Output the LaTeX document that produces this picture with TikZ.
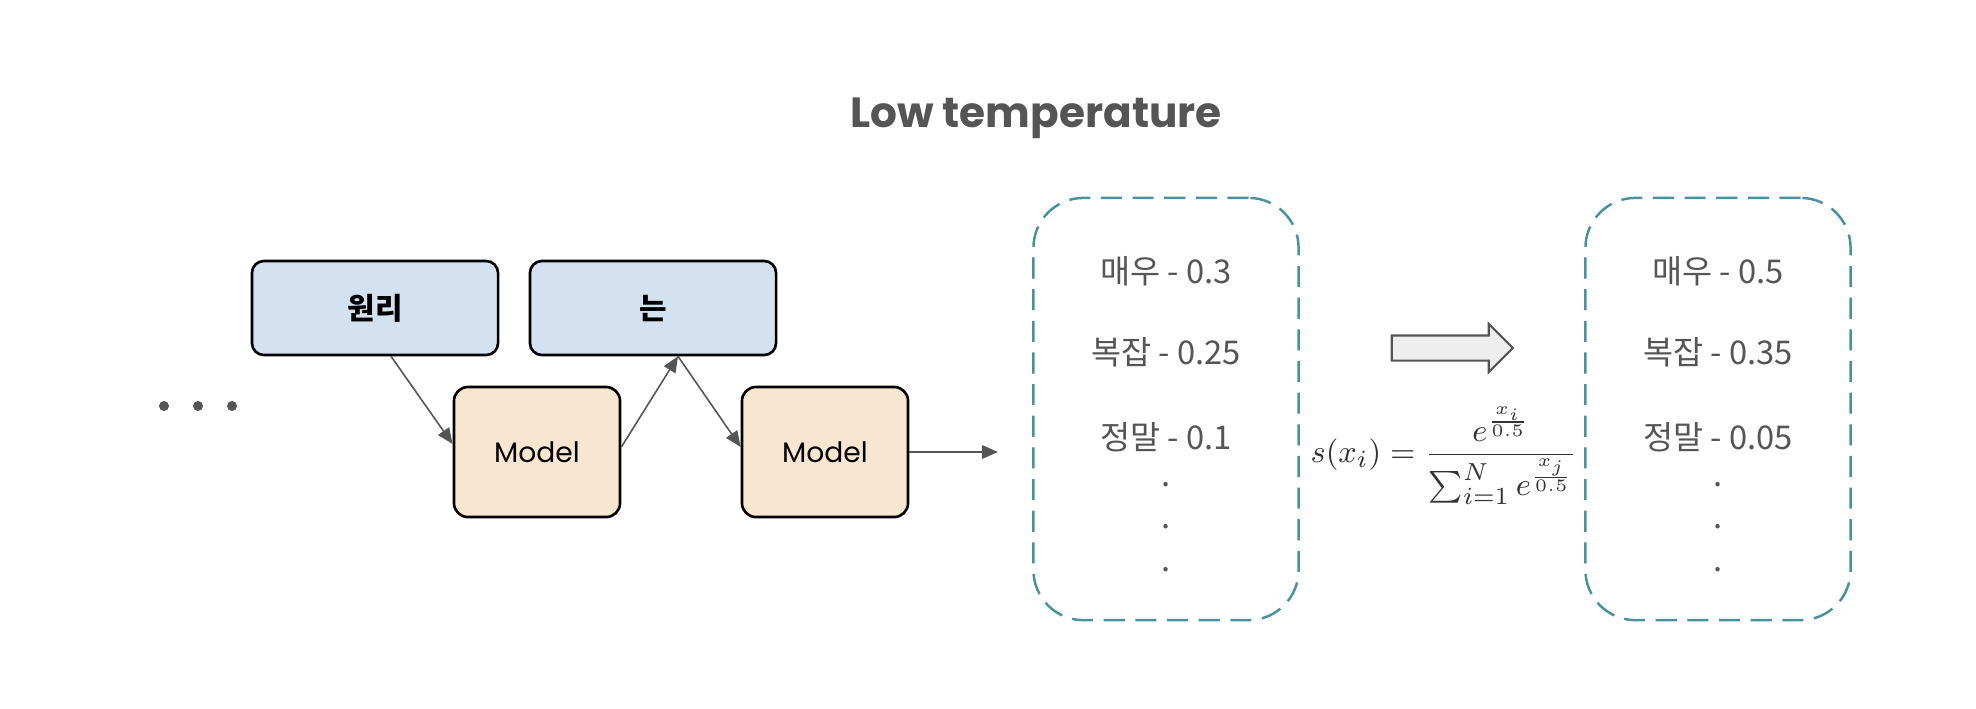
\documentclass[tikz,border=0pt]{standalone}
\usepackage{amsmath}
\usepackage[no-math]{fontspec}
\setmainfont{Poppins}
\newfontfamily\kofont{Noto Sans CJK KR}
\usetikzlibrary{positioning,shapes.arrows,arrows.meta}

\definecolor{tokenblue}{HTML}{D4E1F1}
\definecolor{modelorange}{HTML}{F8E6D0}
\definecolor{probteal}{HTML}{4A919E}
\definecolor{textgray}{HTML}{555555}
\definecolor{formulagray}{HTML}{333333}
\definecolor{arrowfill}{HTML}{EEEEEE}

\begin{document}
\begin{tikzpicture}[x=0.01cm, y=0.01cm,
    token/.style={rectangle, draw, line width=0.75pt, fill=tokenblue, rounded corners=0.12cm, minimum width=2.46cm, minimum height=0.94cm, font=\kofont\bfseries\fontsize{8.5}{10}\selectfont},
    model/.style={rectangle, draw, line width=0.75pt, fill=modelorange, rounded corners=0.14cm, minimum width=1.66cm, minimum height=1.30cm, font=\fontsize{8}{10}\selectfont},
    probs/.style={rectangle, draw=probteal, dash pattern=on 6pt off 3pt, line width=0.7pt, rounded corners=0.5cm, minimum width=2.65cm, minimum height=4.22cm},
    entry/.style={text=textgray, font=\kofont\fontsize{9.3}{11}\selectfont},
    dot/.style={circle, fill=textgray, inner sep=0pt, minimum size=0.1cm},
    arrow/.style={-{Triangle[length=4.5pt,width=3.8pt]}, draw=textgray, line width=0.45pt},
    bigarrow/.style={single arrow, draw=textgray, fill=arrowfill, line width=0.6pt, inner xsep=0pt, inner ysep=0.115cm, minimum height=1.21cm, minimum width=0.46cm, single arrow head extend=0.115cm, single arrow tip angle=90}
]
\useasboundingbox (0,0) rectangle (1976,-708);

% Title
\node[anchor=base, text=textgray, font=\bfseries\fontsize{12}{14}\selectfont] (title) at (1036,-127) {Low temperature};

% Tokens and models
\node[token] (wonri) at (375,-308) {원리};
\node[token] (neun) at (653,-308) {는};
\node[model] (model1) at (537,-452) {Model};
\node[model] (model2) at (825,-452) {Model};

% Leading dots
\foreach \i/\x in {1/164,2/198,3/232}
    \node[dot] (dot\i) at (\x,-406) {};

% Arrows
\draw[arrow] ([xshift=0.16cm]wonri.south) -- ([yshift=0.08cm]model1.west);
\draw[arrow] ([yshift=0.05cm]model1.east) -- ([xshift=0.25cm]neun.south);
\draw[arrow] ([xshift=0.25cm]neun.south) -- ([yshift=0.05cm]model2.west);
\coordinate (probin) at (998,-452);
\draw[arrow] (model2.east) -- (probin);

% Probabilities before
\node[probs] (before) at (1166,-409) {};
\node[entry] (b1) at (1166,-271) {매우 - 0.3};
\node[entry] (b2) at (1166,-352) {복잡 - 0.25};
\node[entry] (b3) at (1166,-437) {정말 - 0.1};
\node[entry] (bd1) at (1166,-485) {.};
\node[entry] (bd2) at (1166,-527) {.};
\node[entry] (bd3) at (1166,-570) {.};

% Softmax with temperature
\node[bigarrow] (softarrow) at (1446,-348) {};
\node[text=formulagray, font=\fontsize{9.3}{11}\selectfont] (softmax) at (1444,-456) {$s(x_i) = \dfrac{e^{\frac{x_i}{0.5}}}{\sum_{i=1}^{N} e^{\frac{x_j}{0.5}}}$};

% Probabilities after
\node[probs] (after) at (1718,-409) {};
\node[entry] (a1) at (1718,-271) {매우 - 0.5};
\node[entry] (a2) at (1718,-352) {복잡 - 0.35};
\node[entry] (a3) at (1718,-437) {정말 - 0.05};
\node[entry] (ad1) at (1718,-485) {.};
\node[entry] (ad2) at (1718,-527) {.};
\node[entry] (ad3) at (1718,-570) {.};

\end{tikzpicture}
\end{document}
